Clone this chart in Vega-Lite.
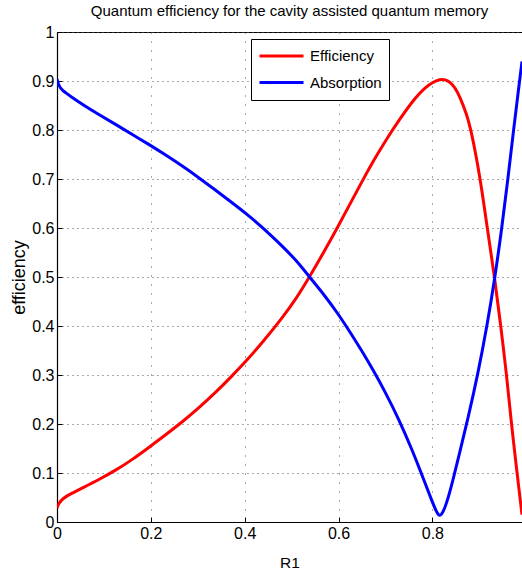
{
  "$schema": "https://vega.github.io/schema/vega-lite/v6.json",
  "autosize": {"type": "none"},
  "padding": {"left": 57, "top": 32, "right": 0, "bottom": 54},
  "width": 465,
  "height": 490,
  "background": "white",
  "title": {
    "text": "Quantum efficiency for the cavity assisted quantum memory",
    "font": "Liberation Sans",
    "fontSize": 15,
    "fontWeight": "normal",
    "color": "black",
    "anchor": "middle",
    "offset": 5
  },
  "config": {
    "view": {"stroke": "black", "strokeWidth": 1},
    "axis": {
      "labelFont": "Liberation Sans",
      "labelFontSize": 16,
      "labelColor": "black",
      "titleFont": "Liberation Sans",
      "titleFontSize": 15.5,
      "titleFontWeight": "normal",
      "titleColor": "black",
      "domainColor": "black",
      "domainWidth": 1.2,
      "tickColor": "black",
      "gridColor": "#555555",
      "gridWidth": 1,
      "gridOpacity": 1
    },
    "legend": {
      "labelFont": "Liberation Sans",
      "labelFontSize": 15,
      "labelColor": "black"
    }
  },
  "data": {
    "values": [
      {"R1": 0, "value": 0.029, "series": "Efficiency"},
      {"R1": 0.004, "value": 0.038, "series": "Efficiency"},
      {"R1": 0.012, "value": 0.048, "series": "Efficiency"},
      {"R1": 0.03, "value": 0.058, "series": "Efficiency"},
      {"R1": 0.055, "value": 0.07, "series": "Efficiency"},
      {"R1": 0.09, "value": 0.087, "series": "Efficiency"},
      {"R1": 0.126, "value": 0.106, "series": "Efficiency"},
      {"R1": 0.16, "value": 0.127, "series": "Efficiency"},
      {"R1": 0.197, "value": 0.153, "series": "Efficiency"},
      {"R1": 0.23, "value": 0.177, "series": "Efficiency"},
      {"R1": 0.268, "value": 0.205, "series": "Efficiency"},
      {"R1": 0.3, "value": 0.231, "series": "Efficiency"},
      {"R1": 0.3356, "value": 0.262, "series": "Efficiency"},
      {"R1": 0.37, "value": 0.295, "series": "Efficiency"},
      {"R1": 0.4067, "value": 0.332, "series": "Efficiency"},
      {"R1": 0.44, "value": 0.369, "series": "Efficiency"},
      {"R1": 0.478, "value": 0.414, "series": "Efficiency"},
      {"R1": 0.51, "value": 0.456, "series": "Efficiency"},
      {"R1": 0.538, "value": 0.5, "series": "Efficiency"},
      {"R1": 0.57, "value": 0.553, "series": "Efficiency"},
      {"R1": 0.599, "value": 0.603, "series": "Efficiency"},
      {"R1": 0.625, "value": 0.65, "series": "Efficiency"},
      {"R1": 0.65, "value": 0.695, "series": "Efficiency"},
      {"R1": 0.675, "value": 0.738, "series": "Efficiency"},
      {"R1": 0.698, "value": 0.775, "series": "Efficiency"},
      {"R1": 0.73, "value": 0.822, "series": "Efficiency"},
      {"R1": 0.766, "value": 0.869, "series": "Efficiency"},
      {"R1": 0.785, "value": 0.887, "series": "Efficiency"},
      {"R1": 0.8, "value": 0.897, "series": "Efficiency"},
      {"R1": 0.8156, "value": 0.904, "series": "Efficiency"},
      {"R1": 0.828, "value": 0.903, "series": "Efficiency"},
      {"R1": 0.8369, "value": 0.898, "series": "Efficiency"},
      {"R1": 0.848, "value": 0.887, "series": "Efficiency"},
      {"R1": 0.858, "value": 0.869, "series": "Efficiency"},
      {"R1": 0.8726, "value": 0.834, "series": "Efficiency"},
      {"R1": 0.883, "value": 0.798, "series": "Efficiency"},
      {"R1": 0.901, "value": 0.708, "series": "Efficiency"},
      {"R1": 0.9165, "value": 0.603, "series": "Efficiency"},
      {"R1": 0.933, "value": 0.497, "series": "Efficiency"},
      {"R1": 0.9457, "value": 0.4, "series": "Efficiency"},
      {"R1": 0.958, "value": 0.302, "series": "Efficiency"},
      {"R1": 0.968, "value": 0.205, "series": "Efficiency"},
      {"R1": 0.978, "value": 0.12, "series": "Efficiency"},
      {"R1": 0.991, "value": 0.015, "series": "Efficiency"},
      {"R1": 0, "value": 0.904, "series": "Absorption"},
      {"R1": 0.004, "value": 0.89, "series": "Absorption"},
      {"R1": 0.0107, "value": 0.881, "series": "Absorption"},
      {"R1": 0.03, "value": 0.868, "series": "Absorption"},
      {"R1": 0.0546, "value": 0.852, "series": "Absorption"},
      {"R1": 0.09, "value": 0.831, "series": "Absorption"},
      {"R1": 0.126, "value": 0.811, "series": "Absorption"},
      {"R1": 0.16, "value": 0.791, "series": "Absorption"},
      {"R1": 0.197, "value": 0.77, "series": "Absorption"},
      {"R1": 0.23, "value": 0.75, "series": "Absorption"},
      {"R1": 0.268, "value": 0.726, "series": "Absorption"},
      {"R1": 0.3, "value": 0.704, "series": "Absorption"},
      {"R1": 0.3356, "value": 0.679, "series": "Absorption"},
      {"R1": 0.37, "value": 0.654, "series": "Absorption"},
      {"R1": 0.4067, "value": 0.627, "series": "Absorption"},
      {"R1": 0.44, "value": 0.599, "series": "Absorption"},
      {"R1": 0.478, "value": 0.565, "series": "Absorption"},
      {"R1": 0.51, "value": 0.534, "series": "Absorption"},
      {"R1": 0.538, "value": 0.5, "series": "Absorption"},
      {"R1": 0.57, "value": 0.463, "series": "Absorption"},
      {"R1": 0.599, "value": 0.425, "series": "Absorption"},
      {"R1": 0.625, "value": 0.387, "series": "Absorption"},
      {"R1": 0.6485, "value": 0.351, "series": "Absorption"},
      {"R1": 0.675, "value": 0.308, "series": "Absorption"},
      {"R1": 0.698, "value": 0.268, "series": "Absorption"},
      {"R1": 0.73, "value": 0.207, "series": "Absorption"},
      {"R1": 0.7586, "value": 0.143, "series": "Absorption"},
      {"R1": 0.775, "value": 0.103, "series": "Absorption"},
      {"R1": 0.795, "value": 0.053, "series": "Absorption"},
      {"R1": 0.8085, "value": 0.02, "series": "Absorption"},
      {"R1": 0.817, "value": 0.008, "series": "Absorption"},
      {"R1": 0.8298, "value": 0.035, "series": "Absorption"},
      {"R1": 0.844, "value": 0.086, "series": "Absorption"},
      {"R1": 0.858, "value": 0.141, "series": "Absorption"},
      {"R1": 0.876, "value": 0.212, "series": "Absorption"},
      {"R1": 0.897, "value": 0.302, "series": "Absorption"},
      {"R1": 0.9165, "value": 0.4, "series": "Absorption"},
      {"R1": 0.933, "value": 0.497, "series": "Absorption"},
      {"R1": 0.948, "value": 0.6, "series": "Absorption"},
      {"R1": 0.961, "value": 0.7, "series": "Absorption"},
      {"R1": 0.973, "value": 0.8, "series": "Absorption"},
      {"R1": 0.984, "value": 0.886, "series": "Absorption"},
      {"R1": 0.991, "value": 0.94, "series": "Absorption"}
    ]
  },
  "mark": {"type": "line", "strokeWidth": 3, "interpolate": "basis", "clip": true},
  "encoding": {
    "x": {
      "field": "R1",
      "type": "quantitative",
      "scale": {"domain": [0, 0.991], "nice": false, "zero": false},
      "axis": {
        "title": "R1",
        "values": [0, 0.2, 0.4, 0.6, 0.8],
        "format": "~g",
        "labelFlush": false,
        "labelPadding": 8,
        "tickSize": -5,
        "titlePadding": 14,
        "grid": true,
        "gridDash": [1, 8]
      }
    },
    "y": {
      "field": "value",
      "type": "quantitative",
      "scale": {"domain": [0, 1], "nice": false},
      "axis": {
        "title": "efficiency",
        "titleFont": "Liberation Sans",
        "titleFontSize": 18,
        "titlePadding": 3,
        "values": [0, 0.1, 0.2, 0.3, 0.4, 0.5, 0.6, 0.7, 0.8, 0.9, 1],
        "format": "~g",
        "labelPadding": 8,
        "tickSize": -5,
        "grid": true,
        "gridDash": [1, 4]
      }
    },
    "color": {
      "field": "series",
      "type": "nominal",
      "sort": ["Efficiency", "Absorption"],
      "scale": {"domain": ["Efficiency", "Absorption"], "range": ["#ff0000", "#0000ff"]},
      "legend": {
        "title": null,
        "orient": "none",
        "legendX": 194,
        "legendY": 7,
        "direction": "vertical",
        "padding": 7,
        "strokeColor": "black",
        "fillColor": "white",
        "cornerRadius": 0,
        "symbolType": "stroke",
        "symbolSize": 1936,
        "symbolStrokeWidth": 3,
        "clipHeight": 20,
        "rowPadding": 6.6,
        "labelOffset": 5
      }
    }
  }
}
